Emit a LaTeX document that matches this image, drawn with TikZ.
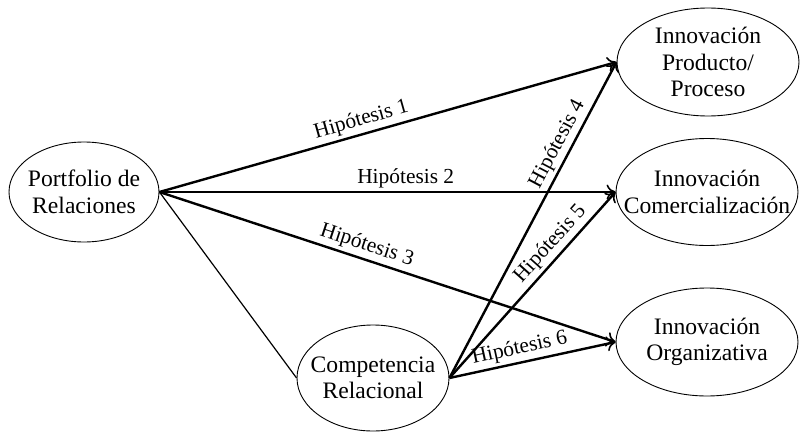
\documentclass[tikz,border=0pt]{standalone}
\usepackage{fontspec}
\setmainfont{Liberation Serif}
\usetikzlibrary{shapes.geometric,arrows.meta}
\tikzset{
  ell/.style={draw, ellipse, line width=0.9pt, inner sep=0pt},
  lab/.style={align=center, font=\fontsize{23.6}{26.5}\selectfont, inner sep=0pt},
  arr/.style={line width=2.4pt, -{To[length=9pt,width=15pt,line width=1.6pt]}},
  thinline/.style={line width=1.2pt},
  hyp/.style={font=\fontsize{21.4}{24}\selectfont, sloped, above, inner sep=3pt}
}
\begin{document}
\begin{tikzpicture}[x=1pt,y=-1pt]
\useasboundingbox (0,0) rectangle (800,431);
\node[ell, minimum width=150pt, minimum height=100pt,
      label={[lab]center:{Portfolio de\\Relaciones}}] (P) at (84,192) {};
\node[ell, minimum width=182pt, minimum height=108pt,
      label={[lab]center:{Innovación\\Producto/\\Proceso}}] (IP) at (708,62) {};
\node[ell, minimum width=182pt, minimum height=107pt,
      label={[lab]center:{Innovación\\Comercialización}}] (IC) at (707,192) {};
\node[ell, minimum width=182pt, minimum height=108pt,
      label={[lab]center:{Innovación\\Organizativa}}] (IO) at (707,342) {};
\node[ell, minimum width=152pt, minimum height=106pt,
      label={[lab]center:{Competencia\\Relacional}}] (CR) at (373,378) {};

\draw[thinline] (P.east) -- (CR.west);
\draw[arr] (P.east) -- node[hyp, pos=0.45] {Hipótesis 1} (IP.west);
\draw[arr] (P.east) -- node[hyp, pos=0.54] {Hipótesis 2} (IC.west);
\draw[arr] (P.east) -- node[hyp, pos=0.445] {Hipótesis 3} (IO.west);
\draw[arr] (CR.east) -- node[hyp, pos=0.72] {Hipótesis 4} (IP.west);
\draw[arr] (CR.east) -- node[hyp, pos=0.67] {Hipótesis 5} (IC.west);
\draw[arr] (CR.east) -- node[hyp, pos=0.44] {Hipótesis 6} (IO.west);
\end{tikzpicture}
\end{document}
